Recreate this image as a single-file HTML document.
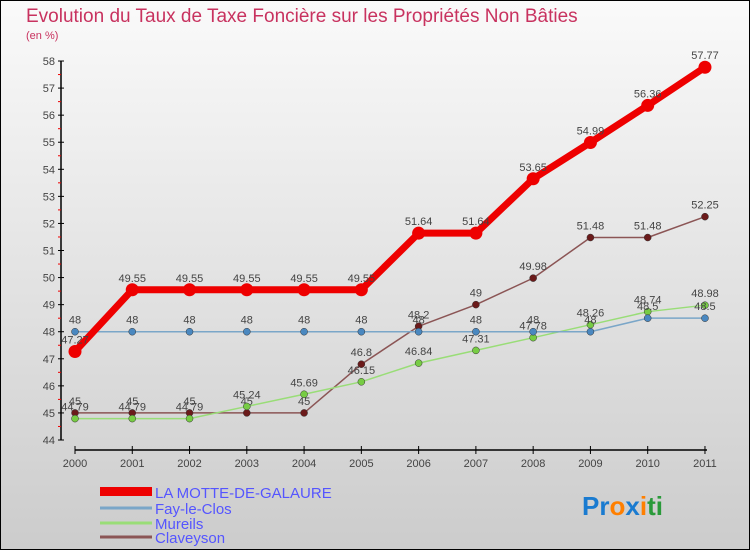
<!DOCTYPE html>
<html><head><meta charset="utf-8"><style>
body{margin:0;width:750px;height:550px;overflow:hidden;font-family:"Liberation Sans",sans-serif}
svg{display:block}
</style></head><body>
<svg id="chart" width="750" height="550" xmlns="http://www.w3.org/2000/svg">
<defs><linearGradient id="bg" x1="0" y1="0" x2="0" y2="1"><stop offset="0" stop-color="#fafafa"/><stop offset="1" stop-color="#cccccc"/></linearGradient></defs>
<rect x="0.5" y="0.5" width="749" height="549" fill="url(#bg)" stroke="#000"/>
<text x="26" y="22" font-size="19" fill="#c8325f">Evolution du Taux de Taxe Foncière sur les Propriétés Non Bâties</text>
<text x="26" y="39" font-size="11" fill="#c8325f">(en %)</text>
<g id="axes"></g><g id="series"></g>
<g font-size="15" fill="#5555ff">
<rect x="100" y="487" width="52" height="9" fill="#e00"/>
<text x="155" y="498">LA MOTTE-DE-GALAURE</text>
<line x1="100" y1="508" x2="152" y2="508" stroke="#7aa6c8" stroke-width="3"/>
<text x="155" y="514">Fay-le-Clos</text>
<line x1="100" y1="523" x2="152" y2="523" stroke="#99dd77" stroke-width="3"/>
<text x="155" y="529">Mureils</text>
<line x1="100" y1="537" x2="152" y2="537" stroke="#8b5555" stroke-width="3"/>
<text x="155" y="543">Claveyson</text>
</g>
<text x="582" y="515" font-size="26" font-weight="bold"><tspan fill="#1a7bd0">Pr</tspan><tspan fill="#ff7f00">o</tspan><tspan fill="#1a7bd0">x</tspan><tspan fill="#ff7f00">i</tspan><tspan fill="#2a9a3a">ti</tspan></text>
</svg>
<script>
const years=[2000,2001,2002,2003,2004,2005,2006,2007,2008,2009,2010,2011];
const yTicks=[44,45,46,47,48,49,50,51,52,53,54,55,56,57,58];
const laMotte=[47.27,49.55,49.55,49.55,49.55,49.55,51.64,51.64,53.65,54.99,56.36,57.77];
const fay=[48,48,48,48,48,48,48,48,48,48,48.5,48.5];
const mureils=[44.79,44.79,44.79,45.24,45.69,46.15,46.84,47.31,47.78,48.26,48.74,48.98];
const claveyson=[45,45,45,45,45,46.8,48.2,49,49.98,51.48,51.48,52.25];
const NS="http://www.w3.org/2000/svg";
const X=i=>75+i*57.27;
const Y=v=>440-(v-44)*27.07;
function mk(t,a,p){const e=document.createElementNS(NS,t);for(const k in a)e.setAttribute(k,a[k]);p.appendChild(e);return e;}
const ax=document.getElementById('axes');
let yl=mk('line',{x1:61,y1:Y(58),x2:61,y2:Y(44),stroke:'#000','stroke-width':1.5},ax);


let xl=mk('line',{x1:75,y1:450,x2:707,y2:450,stroke:'#000','stroke-width':1.5},ax);


yTicks.forEach((v,i)=>{
 mk('line',{x1:58,y1:Y(v),x2:64,y2:Y(v),stroke:'#000'},ax);
 if(i<yTicks.length-1)mk('line',{x1:58,y1:Y(v+0.5),x2:61,y2:Y(v+0.5),stroke:'#e00'},ax);
 const t=mk('text',{x:55,y:Y(v)+4,'font-size':11,fill:'#444','text-anchor':'end'},ax);t.textContent=v;
 
 
});
years.forEach((yr,i)=>{
 mk('line',{x1:X(i),y1:446,x2:X(i),y2:454,stroke:'#000'},ax);
 const t=mk('text',{x:X(i),y:467,'font-size':11,fill:'#444','text-anchor':'middle'},ax);t.textContent=yr;
 
 
});
const sg=document.getElementById('series');
function series(vals,color,w,r,name,pc){
 const g=mk('g',{},sg);
 
 
 mk('polyline',{points:vals.map((v,i)=>X(i)+','+Y(v)).join(' '),fill:'none',stroke:color,'stroke-width':w,'stroke-linejoin':'round'},g);
 vals.forEach((v,i)=>{
  const c=mk('circle',{cx:X(i),cy:Y(v),r:r,fill:pc,stroke:'#333','stroke-width':r>4?0:0.5},g);
  
  
  const t=mk('text',{x:X(i),y:Y(v)-8,'font-size':11,fill:'#444','text-anchor':'middle'},g);t.textContent=v;
  
  
 });
}
series(claveyson,'#8b5555',1.5,3.5,'series-claveyson','#6b1a1a');
series(mureils,'#99dd77',1.5,3.5,'series-mureils','#77cc44');
series(fay,'#7aa6c8',1.5,3.5,'series-fay-le-clos','#4a88c0');
series(laMotte,'#ee0000',7,6.5,'series-la-motte','#ee0000');
</script>
</body></html>
